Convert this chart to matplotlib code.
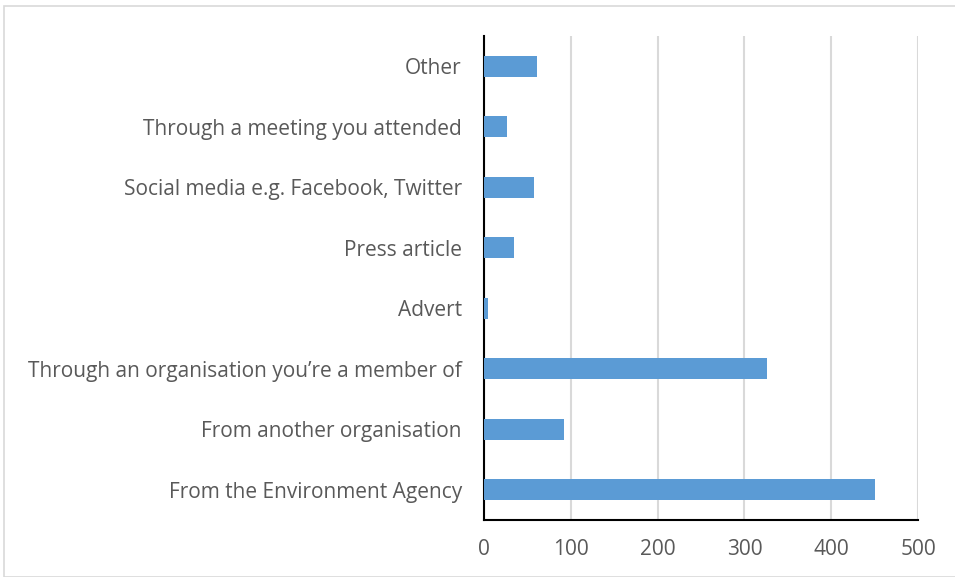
import matplotlib.pyplot as plt
from matplotlib.patches import Rectangle

categories = ['From the Environment Agency', 'From another organisation',
              'Through an organisation you\u2019re a member of', 'Advert',
              'Press article', 'Social media e.g. Facebook, Twitter',
              'Through a meeting you attended', 'Other']
counts = [451, 92, 326, 5, 34, 58, 26, 61]
xticks = [0, 100, 200, 300, 400, 500]

plt.rcParams['font.family'] = ['Open Sans', 'DejaVu Sans']

fig = plt.figure(figsize=(9.55, 5.77), dpi=100)
ax = fig.add_axes([484/955, 1 - 520/577, 434/955, 484/577])

ax.barh(range(len(categories)), counts, height=0.35, color='#5b9bd5', zorder=3)
ax.set_xlim(0, 500)
ax.set_ylim(-0.5, len(categories) - 0.5)
ax.set_xticks(xticks)
ax.set_yticks(range(len(categories)))
ax.set_yticklabels(categories)
ax.tick_params(axis='both', length=0, labelsize=15, colors='#595959')
ax.tick_params(axis='x', pad=14)
ax.tick_params(axis='y', pad=16)
ax.xaxis.grid(True, color='#d9d9d9', linewidth=1.5, zorder=0)

for side in ['top', 'right']:
    ax.spines[side].set_visible(False)
for side in ['left', 'bottom']:
    ax.spines[side].set_color('black')
    ax.spines[side].set_linewidth(1.5)

fig.patches.append(Rectangle((4/955, 0), 1, 1 - 6/577, transform=fig.transFigure,
                             fill=False, edgecolor='#d9d9d9', linewidth=1.2))

fig.savefig('out.png', dpi=100)
